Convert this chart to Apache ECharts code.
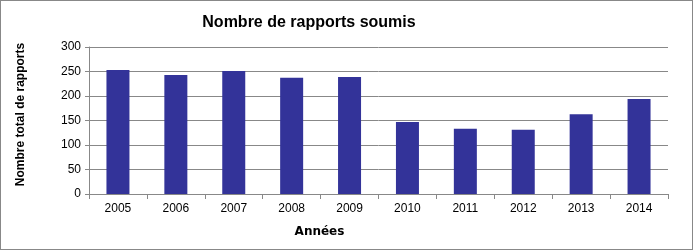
<!DOCTYPE html>
<html><head><meta charset="utf-8">
<script src="https://cdn.jsdelivr.net/npm/echarts@6/dist/echarts.min.js"></script>
<style>html,body{margin:0;padding:0;background:#fff}#c{width:693px;height:250px;box-sizing:border-box;border:1px solid #888}</style>
</head><body><div id="c"></div>
<script>
const years = ['2005','2006','2007','2008','2009','2010','2011','2012','2013','2014'];
const reports = [253, 243, 251, 237, 239, 147, 133, 131, 163, 194];
const yTicks = {min: 0, max: 300, interval: 50};
const titleText = 'Nombre de rapports soumis';
const yName = 'Nombre total de rapports';
const xName = 'Années';

const chart = echarts.init(document.getElementById('c'), null, {renderer: 'canvas'});
const font = 'Liberation Sans, Arial, sans-serif';
chart.setOption({
  animation: false,
  textStyle: {fontFamily: font},
  title: {text: titleText, left: 303, textAlign: 'center', top: 9,
    textStyle: {fontFamily: font, fontSize: 16, fontWeight: 'bold', color: '#000'}},
  grid: {left: 88, right: 24, top: 46, bottom: 55, containLabel: false},
  xAxis: {type: 'category', data: years, name: xName, nameLocation: 'middle', nameGap: 32,
    nameTextStyle: {fontFamily: 'DejaVu Sans, Verdana, sans-serif', fontSize: 12, fontWeight: 'bold', color: '#000', padding: [0, 118, 0, 0]},
    axisLine: {lineStyle: {color: '#888', width: 1}},
    axisTick: {show: true, alignWithLabel: false, length: 5, lineStyle: {color: '#888'}},
    axisLabel: {fontFamily: font, fontSize: 12, color: '#000', margin: 9}},
  yAxis: {type: 'value', min: yTicks.min, max: yTicks.max, interval: yTicks.interval,
    name: yName, nameLocation: 'middle', nameGap: 62, nameRotate: 90,
    nameTextStyle: {fontFamily: font, fontSize: 12, fontWeight: 'bold', color: '#000', padding: [0, 0, 0, 12]},
    axisLine: {show: true, lineStyle: {color: '#888'}},
    axisTick: {show: true, length: 4, lineStyle: {color: '#888'}},
    splitLine: {lineStyle: {color: '#888', width: 1}},
    axisLabel: {fontFamily: font, fontSize: 12, color: '#000', margin: 8}},
  series: [{type: 'bar', data: reports, barWidth: 23, itemStyle: {color: '#333399'}}]
});
</script></body></html>
